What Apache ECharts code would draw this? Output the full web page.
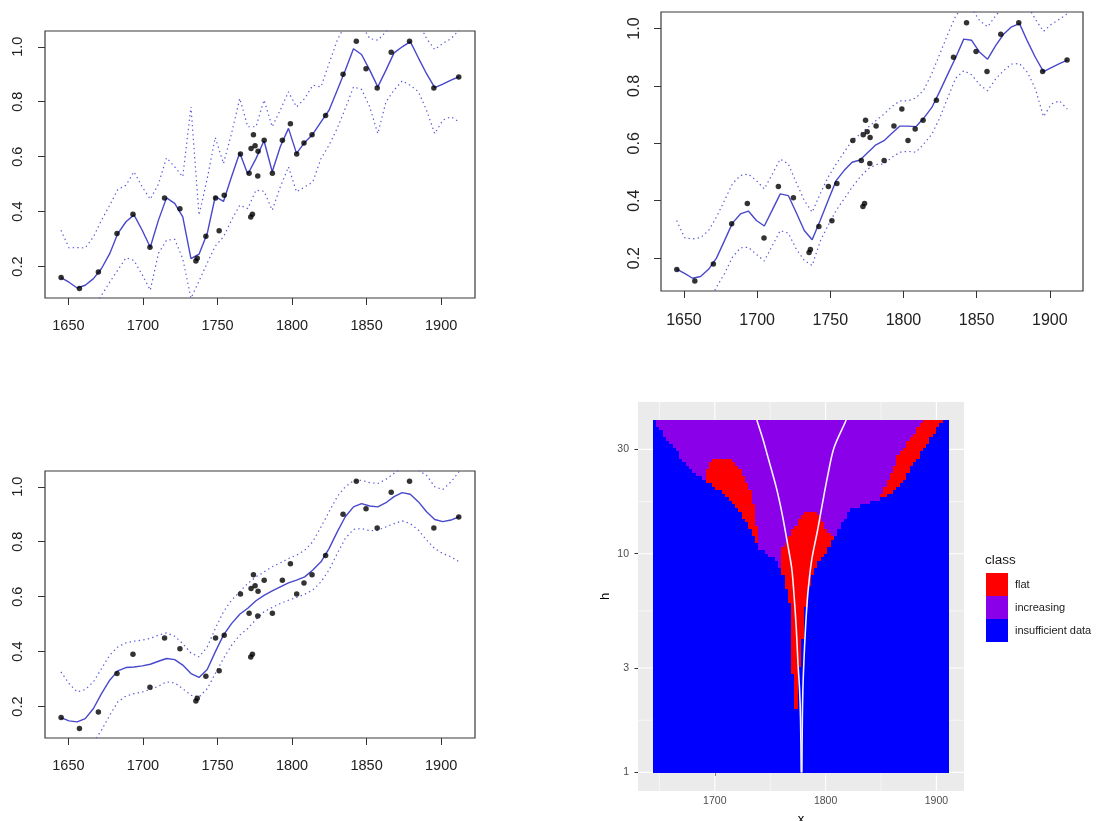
<!DOCTYPE html>
<html>
<head>
<meta charset="utf-8">
<script src="https://cdn.jsdelivr.net/npm/echarts@6/dist/echarts.min.js"></script>
<style>
  html, body { margin: 0; padding: 0; background: #ffffff; }
  #chart { width: 1099px; height: 821px; }
</style>
</head>
<body>
<div id="chart"></div>
<script>
// ---- Observations ----
const obsYear = [1645.1,1657.4,1670.1,1682.6,1693.3,1704.7,1714.5,1724.8,1735.5,1736.4,
                 1742.2,1748.7,1751.1,1754.5,1765.4,1771.2,1772.5,1772.3,1773.4,1774.1,
                 1775.2,1777.2,1777.0,1781.3,1786.8,1793.5,1798.9,1803.1,1808.0,1813.4,
                 1822.5,1834.2,1843.1,1849.6,1857.1,1866.5,1878.8,1895.1,1911.8];
const obsValue = [0.16,0.12,0.18,0.32,0.39,0.27,0.45,0.41,0.22,0.23,
                  0.31,0.45,0.33,0.46,0.61,0.54,0.63,0.38,0.39,0.68,
                  0.64,0.62,0.53,0.66,0.54,0.66,0.72,0.61,0.65,0.68,
                  0.75,0.90,1.02,0.92,0.85,0.98,1.02,0.85,0.89];

// ---- Evaluation grid shared by the three smooths ----
const evalYear = [1645.0,1650.4,1655.9,1661.3,1666.8,1672.2,1677.7,1683.1,1688.6,1694.0,
                  1699.5,1704.9,1710.4,1715.8,1721.3,1726.7,1732.2,1737.6,1743.1,1748.5,
                  1754.0,1759.4,1764.9,1770.3,1775.8,1781.2,1786.7,1792.1,1797.6,1803.0,
                  1808.5,1813.9,1819.4,1824.8,1830.3,1835.7,1841.2,1846.6,1852.1,1857.5,
                  1863.0,1868.4,1873.9,1879.3,1884.8,1890.2,1895.7,1901.1,1906.6,1912.0];

// small bandwidth
const fitNarrow   = [0.160,0.143,0.122,0.132,0.156,0.193,0.247,0.320,0.363,0.388,
                     0.332,0.270,0.369,0.450,0.430,0.381,0.229,0.245,0.320,0.455,
                     0.437,0.527,0.614,0.536,0.593,0.658,0.545,0.636,0.703,0.612,
                     0.652,0.682,0.727,0.769,0.842,0.915,0.993,0.972,0.915,0.854,
                     0.915,0.978,1.000,1.019,0.959,0.902,0.851,0.864,0.879,0.891];
const upperNarrow = [0.332,0.268,0.269,0.268,0.308,0.369,0.423,0.480,0.496,0.545,
                     0.490,0.445,0.500,0.596,0.563,0.527,0.781,0.387,0.520,0.670,
                     0.575,0.684,0.812,0.709,0.709,0.806,0.709,0.770,0.836,0.781,
                     0.812,0.860,0.854,0.939,1.024,1.080,1.120,1.080,1.030,1.024,
                     1.055,1.090,1.120,1.120,1.090,1.030,0.990,1.012,1.030,1.060];
const lowerNarrow = [-0.020,-0.020,-0.010,0.020,0.055,0.095,0.143,0.187,0.232,0.222,
                     0.170,0.114,0.248,0.296,0.299,0.229,0.085,0.147,0.213,0.274,
                     0.308,0.369,0.423,0.411,0.478,0.474,0.405,0.490,0.563,0.472,
                     0.490,0.508,0.593,0.642,0.703,0.775,0.854,0.845,0.781,0.684,
                     0.800,0.842,0.876,0.860,0.836,0.769,0.684,0.733,0.745,0.727];

// medium bandwidth
const fitMid   = [0.162,0.147,0.130,0.136,0.161,0.200,0.261,0.322,0.354,0.364,
                  0.331,0.312,0.368,0.424,0.418,0.359,0.296,0.264,0.331,0.401,
                  0.470,0.505,0.534,0.542,0.569,0.595,0.609,0.635,0.660,0.660,
                  0.658,0.688,0.725,0.781,0.841,0.899,0.963,0.959,0.917,0.893,
                  0.940,0.980,1.006,1.017,0.955,0.899,0.850,0.864,0.878,0.890];
const upperMid = [0.331,0.271,0.267,0.271,0.296,0.343,0.401,0.459,0.488,0.493,
                  0.470,0.441,0.493,0.545,0.528,0.464,0.401,0.360,0.424,0.482,
                  0.528,0.569,0.609,0.632,0.656,0.679,0.702,0.728,0.748,0.748,
                  0.758,0.786,0.843,0.911,0.980,1.044,1.080,1.070,1.027,1.006,
                  1.044,1.080,1.100,1.100,1.080,1.032,0.990,1.015,1.032,1.052];
const lowerMid = [-0.010,-0.020,-0.020,0.000,0.045,0.099,0.146,0.203,0.236,0.238,
                  0.213,0.190,0.244,0.296,0.287,0.232,0.192,0.174,0.259,0.314,
                  0.366,0.406,0.447,0.482,0.511,0.526,0.528,0.551,0.569,0.572,
                  0.569,0.598,0.632,0.688,0.760,0.827,0.853,0.839,0.804,0.783,
                  0.824,0.853,0.876,0.878,0.847,0.789,0.693,0.737,0.748,0.719];

// large bandwidth
const fitWide   = [0.160,0.148,0.144,0.156,0.193,0.247,0.296,0.330,0.342,0.344,
                   0.348,0.354,0.365,0.375,0.371,0.351,0.320,0.306,0.335,0.399,
                   0.460,0.502,0.536,0.558,0.585,0.605,0.621,0.636,0.650,0.660,
                   0.672,0.697,0.727,0.775,0.836,0.891,0.927,0.939,0.930,0.927,
                   0.942,0.964,0.979,0.973,0.945,0.909,0.881,0.873,0.879,0.891];
const upperWide = [0.326,0.284,0.253,0.262,0.290,0.338,0.387,0.417,0.432,0.438,
                   0.442,0.448,0.460,0.468,0.456,0.429,0.395,0.381,0.417,0.484,
                   0.545,0.587,0.618,0.648,0.672,0.690,0.709,0.723,0.739,0.751,
                   0.769,0.800,0.854,0.909,0.964,1.000,1.022,1.024,1.015,1.012,
                   1.027,1.049,1.070,1.070,1.060,1.042,1.000,0.990,1.018,1.055];
const lowerWide = [-0.020,-0.030,-0.010,0.030,0.070,0.114,0.168,0.217,0.238,0.247,
                   0.253,0.262,0.274,0.290,0.286,0.265,0.241,0.235,0.265,0.320,
                   0.375,0.423,0.460,0.484,0.517,0.545,0.561,0.575,0.587,0.597,
                   0.609,0.624,0.654,0.697,0.757,0.812,0.845,0.848,0.840,0.842,
                   0.854,0.866,0.876,0.866,0.842,0.806,0.775,0.757,0.745,0.727];

// tick labels
const yearTicks  = [1650, 1700, 1750, 1800, 1850, 1900];
const valueTicks = [0.2, 0.4, 0.6, 0.8, 1.0];
const mapYearTicks = [1700, 1800, 1900];
const mapYearMinor = [1650, 1750, 1850];
const hTicks = [1, 3, 10, 30];

// ---- Class map (x, h): region outlines as [year, h] ----
const regionIncreasing = [[1640,48],[1908,48],[1905.4,41],[1900.9,37.6],[1896.4,34.4],[1891.9,32.0],
  [1887.4,29.9],[1882.9,27.4],[1878.3,25.5],[1875.3,23.8],[1872.3,22.2],[1867.7,20.7],[1863.2,19.6],
  [1858.7,18.75],[1852.7,18.1],[1848.1,17.7],[1840.6,17.2],[1831.6,16.6],[1824.1,16.0],[1819.6,15.1],
  [1815.1,13.8],[1812.0,12.9],[1807.5,11.8],[1801.5,10.2],[1795.5,9.4],[1790.9,8.5],[1786.4,7.6],
  [1783.4,6.6],[1781.9,5.5],[1780.4,4.6],[1779.0,3.9],[1777.0,3.1],[1775.3,3.0],[1775.3,1.97],
  [1771.2,1.97],[1771.2,2.75],[1769.7,2.9],[1769.7,4.6],[1768.4,5.5],[1765.4,6.6],[1762.3,7.6],
  [1759.3,8.5],[1757.8,8.9],[1753.3,9.55],[1747.3,9.9],[1739.8,10.6],[1736.8,11.6],[1732.2,12.9],
  [1727.7,14.1],[1723.2,15.4],[1718.7,16.4],[1712.6,17.7],[1706.7,19.0],[1699.1,20.3],[1693.1,21.1],
  [1685.5,22.6],[1678.0,24.2],[1670.6,27.0],[1663.0,30.4],[1657.0,33.2],[1651.0,36.3],[1646.4,40.3],
  [1640,41.5]];
const regionFlatLeft = [[1692.6,20.5],[1693.1,24.7],[1697.6,26.9],[1714.2,26.9],[1720.2,25.1],
  [1726.2,22.6],[1730.7,20.3],[1733.8,18.3],[1735.2,16.4],[1736.8,14.3],[1738.3,12.9],[1739.8,11.6],
  [1740.6,10.5],[1742.0,9.8],[1742.0,8.0],[1700,15],[1692.6,19]];
const regionFlatCentre = [[1783.4,15.7],[1786.4,15.9],[1791.0,15.6],[1795.5,14.8],[1798.5,13.6],
  [1803.0,12.4],[1807.0,11.8],[1812,11.5],[1800,3],[1778,1.5],[1768,1.5],[1750,7],[1758.6,7.6],
  [1759.3,9.4],[1760.9,10.4],[1763.9,11.2],[1766.8,12.0],[1771.4,13.1],[1777.4,14.8],[1780.4,15.3]];
const regionFlatRight = [[1887.4,48],[1887.4,41],[1882.9,37.6],[1878.3,34.4],[1873.8,32.0],
  [1869.3,29.9],[1865.3,27.9],[1862.3,25.5],[1859.3,23.0],[1855.7,21.1],[1852.1,19.4],[1849.1,18.1],
  [1847.5,17.6],[1852,16.5],[1915,30],[1915,48]];

// boundary curves (year, h)
const curveLeft  = [[1778.0,1.0],[1777.4,1.74],[1776.5,2.4],[1775.0,3.2],[1773.5,4.6],[1771.4,6.6],
  [1769.4,8.6],[1765.4,11.3],[1760.9,15.1],[1755.6,20.0],[1747.3,28.4],[1743.6,33.2],[1738.3,40.3],[1737.9,41]];
const curveRight = [[1778.6,1.0],[1779.0,1.74],[1779.5,2.4],[1780.4,3.2],[1781.9,4.6],[1784.0,6.6],
  [1787.5,9.4],[1792.5,12.6],[1797.0,16.8],[1801.5,22.2],[1807.5,30.4],[1818.1,40.3],[1818.5,41]];

const classNames  = ['flat', 'increasing', 'insufficient data'];
const classColors = ['#FF0000', '#8A00E8', '#0000FF'];

// ---- layout & styling ----
const FONT = '"Liberation Sans", Arial, Helvetica, sans-serif';
const LINE_COLOR = '#4848cc';
const BAND_COLOR = '#5a5ad8';

const basePanels = [
  { grid: {left: 45,  top: 31,  width: 430, height: 267}, fit: fitNarrow, upper: upperNarrow, lower: lowerNarrow, font: 14.5, xm: 20, ym: 20 },
  { grid: {left: 661, top: 12,  width: 422, height: 279}, fit: fitMid,    upper: upperMid,    lower: lowerMid,    font: 16,   xm: 22, ym: 18 },
  { grid: {left: 45,  top: 471, width: 430, height: 267}, fit: fitWide,   upper: upperWide,   lower: lowerWide,   font: 14.5, xm: 20, ym: 20 }
];

const grids = [], xAxes = [], yAxes = [], series = [];
const pairs = (xs, ys) => xs.map((x, i) => [x, ys[i]]);

basePanels.forEach((p, i) => {
  grids.push(Object.assign({ show: true, borderColor: '#3a3a3a', borderWidth: 1.2,
    backgroundColor: 'transparent', containLabel: false, outerBoundsMode: 'none' }, p.grid));
  xAxes.push({
    type: 'value', gridIndex: i, min: 1634.3, max: 1922.7,
    axisLine: { show: false },
    axisTick: { show: true, length: 7, customValues: yearTicks, lineStyle: { color: '#333', width: 1 } },
    axisLabel: { customValues: yearTicks, fontSize: p.font, fontFamily: FONT, color: '#222', margin: p.xm,
                 formatter: v => String(Math.round(v)) },
    splitLine: { show: false }
  });
  yAxes.push({
    type: 'value', gridIndex: i, min: 0.0855, max: 1.0575,
    axisLine: { show: false },
    axisTick: { show: true, length: 7, customValues: valueTicks, lineStyle: { color: '#333', width: 1 } },
    axisLabel: { customValues: valueTicks, rotate: 90, fontSize: p.font, fontFamily: FONT, color: '#222',
                 margin: p.ym, formatter: v => v.toFixed(1) },
    splitLine: { show: false }
  });
  const lineBase = { type: 'line', xAxisIndex: i, yAxisIndex: i, showSymbol: false, silent: true,
                     clip: true, animation: false };
  series.push(Object.assign({}, lineBase, { data: pairs(evalYear, p.upper),
    lineStyle: { color: BAND_COLOR, width: 1.2, type: [1.4, 3.2] } }));
  series.push(Object.assign({}, lineBase, { data: pairs(evalYear, p.lower),
    lineStyle: { color: BAND_COLOR, width: 1.2, type: [1.4, 3.2] } }));
  series.push(Object.assign({}, lineBase, { data: pairs(evalYear, p.fit),
    lineStyle: { color: LINE_COLOR, width: 1.4 } }));
  series.push({ type: 'scatter', xAxisIndex: i, yAxisIndex: i, data: pairs(obsYear, obsValue),
    symbol: 'circle', symbolSize: 5.5, itemStyle: { color: '#000' }, silent: true, animation: false, z: 4 });
});

// ---- class map panel ----
const MAP = 3;
grids.push({ left: 638, top: 402, width: 326, height: 389, show: true, backgroundColor: '#EBEBEB',
             borderWidth: 0, containLabel: false, outerBoundsMode: 'none' });
xAxes.push({
  type: 'value', gridIndex: MAP, min: 1630.7, max: 1924.9,
  axisLine: { show: false },
  axisTick: { show: true, length: 3.5, customValues: mapYearTicks, lineStyle: { color: '#333', width: 1 } },
  axisLabel: { customValues: mapYearTicks, fontSize: 10.5, fontFamily: FONT, color: '#4d4d4d', margin: 5,
               formatter: v => String(Math.round(v)) },
  splitLine: { show: false },
  name: 'x', nameLocation: 'middle', nameGap: 22,
  nameTextStyle: { fontSize: 13, fontFamily: FONT, color: '#000' }
});
const hTickLogs = hTicks.map(h => Math.log10(h));
yAxes.push({
  type: 'value', gridIndex: MAP, min: -0.085, max: 1.6935,
  axisLine: { show: false },
  axisTick: { show: true, length: 3.5, customValues: hTickLogs, lineStyle: { color: '#333', width: 1 } },
  axisLabel: { customValues: hTickLogs, fontSize: 10.5, fontFamily: FONT, color: '#4d4d4d', margin: 9,
               formatter: v => String(Math.round(Math.pow(10, v))) },
  splitLine: { show: false },
  name: 'h', nameLocation: 'middle', nameGap: 26, nameRotate: 90,
  nameTextStyle: { fontSize: 13, fontFamily: FONT, color: '#000' }
});

// panel grid lines: [orientation (0 = vertical), position, major flag]
const gridLineData = [];
mapYearTicks.forEach(v => gridLineData.push([0, v, 1]));
mapYearMinor.forEach(v => gridLineData.push([0, v, 0]));
hTickLogs.forEach(v => gridLineData.push([1, v, 1]));
for (let k = 0; k + 1 < hTickLogs.length; k++) gridLineData.push([1, (hTickLogs[k] + hTickLogs[k + 1]) / 2, 0]);

series.push({
  type: 'custom', xAxisIndex: MAP, yAxisIndex: MAP, silent: true, animation: false, z: 1,
  data: gridLineData,
  renderItem: (params, api) => {
    const cs = params.coordSys;
    const w = api.value(2) ? 1.1 : 0.55;
    if (api.value(0) === 0) {
      const x = api.coord([api.value(1), 0])[0];
      return { type: 'line', shape: { x1: x, y1: cs.y, x2: x, y2: cs.y + cs.height }, style: { stroke: '#fff', lineWidth: w } };
    }
    const y = api.coord([1700, api.value(1)])[1];
    return { type: 'line', shape: { x1: cs.x, y1: y, x2: cs.x + cs.width, y2: y }, style: { stroke: '#fff', lineWidth: w } };
  }
});

// rasterise the outlines into cells (x in years, y in log10 h)
const toLog = poly => poly.map(([x, h]) => [x, Math.log10(h)]);
const inside = (poly, x, y) => {
  let c = false;
  for (let i = 0, j = poly.length - 1; i < poly.length; j = i++) {
    const xi = poly[i][0], yi = poly[i][1], xj = poly[j][0], yj = poly[j][1];
    if ((yi > y) !== (yj > y) && x < (xj - xi) * (y - yi) / (yj - yi) + xi) c = !c;
  }
  return c;
};
const polyInc = toLog(regionIncreasing);
const polyFlat = [regionFlatLeft, regionFlatCentre, regionFlatRight].map(toLog);
const NX = 90, NY = 100, X0 = 1644.1, X1 = 1911.5, L0 = -0.003, L1 = 1.6127;
const dx = (X1 - X0) / NX, dl = (L1 - L0) / NY;
const runs = [[], [], []];
const cellClass = (x, l) => {
  if (!inside(polyInc, x, l)) return 2;
  return polyFlat.some(p => inside(p, x, l)) ? 0 : 1;
};
for (let j = 0; j < NY; j++) {
  const l = L0 + (j + 0.5) * dl;
  let start = 0, cur = cellClass(X0 + 0.5 * dx, l);
  for (let i = 1; i <= NX; i++) {
    const c = i < NX ? cellClass(X0 + (i + 0.5) * dx, l) : -1;
    if (c !== cur) {
      runs[cur].push([X0 + start * dx, X0 + i * dx, L0 + j * dl, L0 + (j + 1) * dl]);
      start = i; cur = c;
    }
  }
}
const rectItem = (params, api) => {
  const a = api.coord([api.value(0), api.value(3)]);
  const b = api.coord([api.value(1), api.value(2)]);
  const x = Math.round(a[0]), y = Math.round(a[1]);
  return { type: 'rect', shape: { x: x, y: y, width: Math.round(b[0]) - x, height: Math.round(b[1]) - y },
           style: { fill: api.visual('color') } };
};
classNames.forEach((name, k) => {
  series.push({
    type: 'custom', name: name, xAxisIndex: MAP, yAxisIndex: MAP, silent: true, animation: false, z: 2,
    itemStyle: { color: classColors[k] }, encode: { x: [0, 1], y: [2, 3] },
    data: runs[k], renderItem: rectItem
  });
});

[curveLeft, curveRight].forEach(curve => {
  series.push({
    type: 'line', xAxisIndex: MAP, yAxisIndex: MAP, showSymbol: false, silent: true, animation: false,
    smooth: 0.3, z: 5, data: curve.map(([x, h]) => [x, Math.log10(h)]),
    lineStyle: { color: '#f3f0ff', width: 1.6 }
  });
});

const chart = echarts.init(document.getElementById('chart'), null, { renderer: 'canvas' });
chart.setOption({
  animation: false,
  backgroundColor: '#ffffff',
  title: { text: 'class', left: 985, top: 553, padding: 0,
           textStyle: { fontSize: 13.5, fontWeight: 'normal', fontFamily: FONT, color: '#1a1a1a' } },
  legend: {
    data: classNames, orient: 'vertical', left: 986, top: 573, padding: 0,
    itemWidth: 22, itemHeight: 23, itemGap: 0, icon: 'rect', selectedMode: false,
    textStyle: { fontSize: 11, fontFamily: FONT, color: '#1a1a1a', padding: [0, 0, 0, 2] }
  },
  grid: grids, xAxis: xAxes, yAxis: yAxes, series: series
});
</script>
</body>
</html>
